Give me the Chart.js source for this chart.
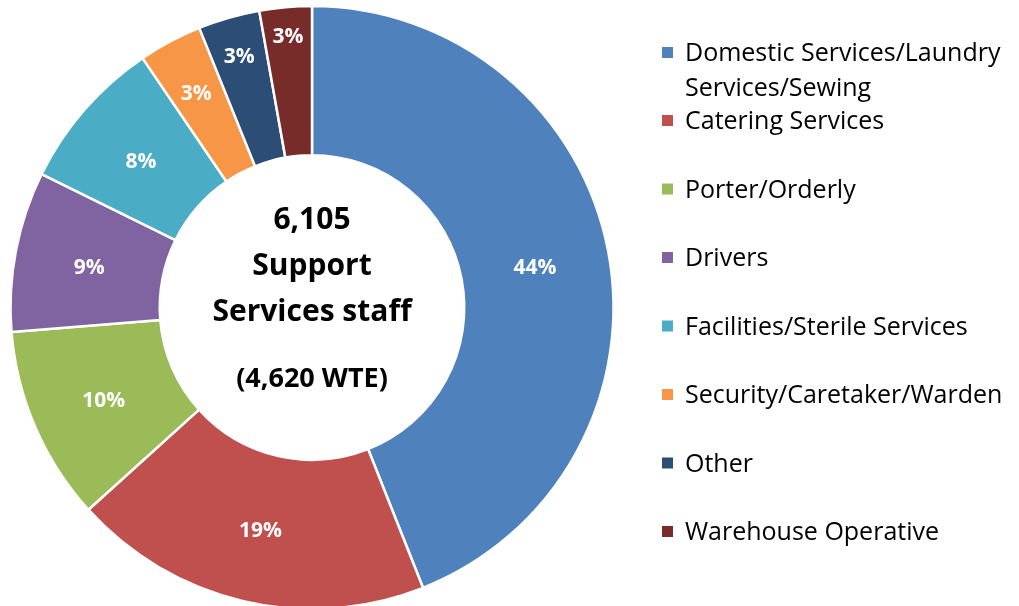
<!DOCTYPE html>
<html>
<head>
<meta charset="utf-8">
<script src="https://cdn.jsdelivr.net/npm/chart.js@4.4.1/dist/chart.umd.min.js"></script>
<style>
  html, body { margin: 0; padding: 0; background: #fff; }
  #wrap { width: 1019px; height: 606px; position: relative; }
</style>
</head>
<body>
<div id="wrap"><canvas id="staffChart" width="1019" height="606"></canvas></div>
<script>
const categories = [
    ['Domestic Services/Laundry', 'Services/Sewing'],
    'Catering Services',
    'Porter/Orderly',
    'Drivers',
    'Facilities/Sterile Services',
    'Security/Caretaker/Warden',
    'Other',
    'Warehouse Operative'
];
const shares = [44.0, 19.3, 10.4, 8.6, 8.2, 3.4, 3.3, 2.8];
const centreLines = ['6,105', 'Support', 'Services staff'];
const centreNote = '(4,620 WTE)';

const colours = ['#4F81BD', '#C0504D', '#9BBB59', '#8064A2', '#4BACC6', '#F79646', '#2C4D75', '#772C2A'];
// small slices have their label pushed towards the rim
const labelShift = [0, 0, 0, 0, 0, 19, 37, 48];
const FONT = '"Open Sans", Lato, sans-serif';

const sliceLabels = {
    id: 'sliceLabels',
    afterDatasetsDraw(chart) {
        const ctx = chart.ctx;
        const meta = chart.getDatasetMeta(0);
        const total = shares.reduce((a, b) => a + b, 0);
        ctx.save();
        ctx.fillStyle = '#fff';
        ctx.font = 'bold 21px ' + FONT;
        ctx.textAlign = 'center';
        ctx.textBaseline = 'middle';
        meta.data.forEach((arc, i) => {
            const p = arc.getProps(['x', 'y', 'startAngle', 'endAngle', 'innerRadius', 'outerRadius'], true);
            const mid = (p.startAngle + p.endAngle) / 2;
            const r = (p.innerRadius + p.outerRadius) / 2 + labelShift[i];
            const pct = Math.round(shares[i] / total * 100) + '%';
            // +3: Open Sans sits high on a middle baseline
            ctx.fillText(pct, p.x + Math.cos(mid) * r, p.y + Math.sin(mid) * r + 3);
        });
        ctx.restore();
    }
};

const centreText = {
    id: 'centreText',
    afterDraw(chart) {
        const ctx = chart.ctx;
        const arc = chart.getDatasetMeta(0).data[0];
        const cx = arc.x, cy = arc.y + 3;
        ctx.save();
        ctx.fillStyle = '#000';
        ctx.textAlign = 'center';
        ctx.textBaseline = 'middle';
        ctx.font = 'bold 30px ' + FONT;
        centreLines.forEach((line, i) => {
            ctx.fillText(line, cx, cy - 90 + i * 46);
        });
        ctx.font = 'bold 27px ' + FONT;
        ctx.fillText(centreNote, cx, cy + 69);
        ctx.restore();
    }
};

const sideLegend = {
    id: 'sideLegend',
    afterDraw(chart) {
        const ctx = chart.ctx;
        ctx.save();
        ctx.font = '25px ' + FONT;
        ctx.textBaseline = 'middle';
        ctx.textAlign = 'left';
        let y = 52;
        categories.forEach((label, i) => {
            const lines = Array.isArray(label) ? label : [label];
            ctx.fillStyle = colours[i];
            ctx.fillRect(662, y - 5, 11, 11);
            ctx.fillStyle = '#000';
            lines.forEach((t, j) => ctx.fillText(t, 685, y + 2 + j * 35));
            y += (i === 0 ? 68 : 68.5);
        });
        ctx.restore();
    }
};

const ctx = document.getElementById('staffChart').getContext('2d');
const staffChart = new Chart(ctx, {
    type: 'doughnut',
    data: {
        labels: categories,
        datasets: [{
            data: shares,
            backgroundColor: colours,
            borderColor: '#fff',
            borderWidth: 2.5
        }]
    },
    options: {
        responsive: false,
        animation: false,
        radius: 301.5,
        cutout: '50.5%',
        layout: { padding: { top: 9, bottom: 0, left: 10, right: 405 } },
        plugins: {
            legend: { display: false },
            tooltip: { enabled: false }
        }
    },
    plugins: [sliceLabels, centreText, sideLegend]
});
</script>
</body>
</html>
